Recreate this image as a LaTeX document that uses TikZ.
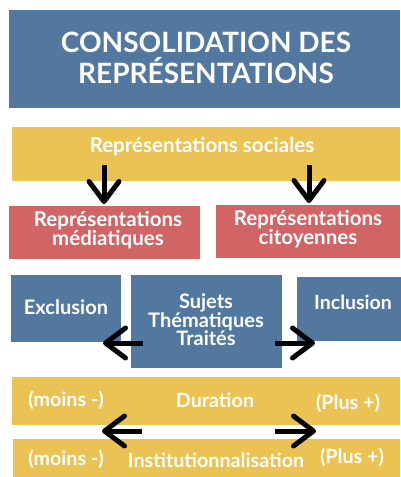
\documentclass[tikz,border=0pt]{standalone}
\usepackage{fontspec}
\setmainfont{Lato}
\usetikzlibrary{arrows.meta}
\definecolor{cblue}{RGB}{82,120,160}
\definecolor{cyellow}{RGB}{235,195,84}
\definecolor{cred}{RGB}{209,101,102}
\tikzset{
  box/.style={draw=none, anchor=north west, inner sep=0pt, outer sep=0pt},
  txt/.style={text=white, font=\bfseries, align=center, inner sep=0pt},
  arr/.style={line width=5pt, -{Straight Barb[length=20pt,width=30pt,line cap=round,line join=round]}},
}
\newcommand{\fs}[2]{\fontsize{#1}{#2}\selectfont}
\begin{document}
\begin{tikzpicture}[x=1pt,y=-1pt]
\useasboundingbox (0,0) rectangle (400,477);
\fill[white] (0,0) rectangle (400,477);
% boxes
\node[box, fill=cblue, minimum width=391pt, minimum height=98pt] (title) at (9,10) {};
\node[box, fill=cyellow, minimum width=388pt, minimum height=54pt] (soc) at (12,127) {};
\node[box, fill=cred, minimum width=191pt, minimum height=53pt] (med) at (9,206) {};
\node[box, fill=cred, minimum width=184pt, minimum height=53pt] (cit) at (216,205) {};
\node[box, fill=cblue, minimum width=110pt, minimum height=67pt] (excl) at (11,275) {};
\node[box, fill=cblue, minimum width=151pt, minimum height=93pt] (suj) at (131,275) {};
\node[box, fill=cblue, minimum width=104pt, minimum height=64pt] (incl) at (297,277) {};
\node[box, fill=cyellow, minimum width=388pt, minimum height=48pt] (dur) at (12,377) {};
\node[box, fill=cyellow, minimum width=387pt, minimum height=40pt] (inst) at (13,439) {};
% texts
\node[txt, font=\bfseries\fs{28}{31}] (tT) at (206,58) {CONSOLIDATION DES\\REPRÉSENTATIONS};
\node[txt, font=\bfseries\fs{20.5}{19}] (tS) at (202,147) {Représentations sociales};
\node[txt, font=\bfseries\fs{20.5}{19.5}] (tM) at (108,230) {Représentations\\médiatiques};
\node[txt, font=\bfseries\fs{20.5}{19.5}] (tC) at (308,229) {Représentations\\citoyennes};
\node[txt, font=\bfseries\fs{20}{18.5}] (tE) at (66,307) {Exclusion};
\node[txt, font=\bfseries\fs{20}{18.5}] (tJ) at (206,320) {Sujets\\Thématiques\\Traités};
\node[txt, font=\bfseries\fs{19.5}{18.5}] (tI) at (353,302) {Inclusion};
\node[txt, font=\bfseries\fs{19.7}{18}] (tm1) at (66,400) {(moins -)};
\node[txt, font=\bfseries\fs{19.7}{18}] (tD) at (215,400) {Duration};
\node[txt, font=\bfseries\fs{19.7}{18}] (tp1) at (348,403) {(Plus +)};
\node[txt, font=\bfseries\fs{19.7}{18}] (tm2) at (66,459) {(moins -)};
\node[txt, font=\bfseries\fs{19.7}{18}] (tIn) at (216,460) {Institutionnalisation};
\node[txt, font=\bfseries\fs{19.7}{18}] (tp2) at (352,457) {(Plus +)};
% arrow coordinates
\coordinate (a1s) at (104,165);
\coordinate (a1e) at (104,204);
\coordinate (a2s) at (309,165);
\coordinate (a2e) at (309,203);
\coordinate (a3s) at (143,343);
\coordinate (a3e) at (103,343);
\coordinate (a4s) at (275,343);
\coordinate (a4e) at (315,343);
\coordinate (a5s) at (142,431);
\coordinate (a5e) at (102,431);
\coordinate (a6s) at (275,431);
\coordinate (a6e) at (316,431);
\draw[arr] (a1s) -- (a1e);
\draw[arr] (a2s) -- (a2e);
\draw[arr] (a3s) -- (a3e);
\draw[arr] (a4s) -- (a4e);
\draw[arr] (a5s) -- (a5e);
\draw[arr] (a6s) -- (a6e);
\end{tikzpicture}
\end{document}
